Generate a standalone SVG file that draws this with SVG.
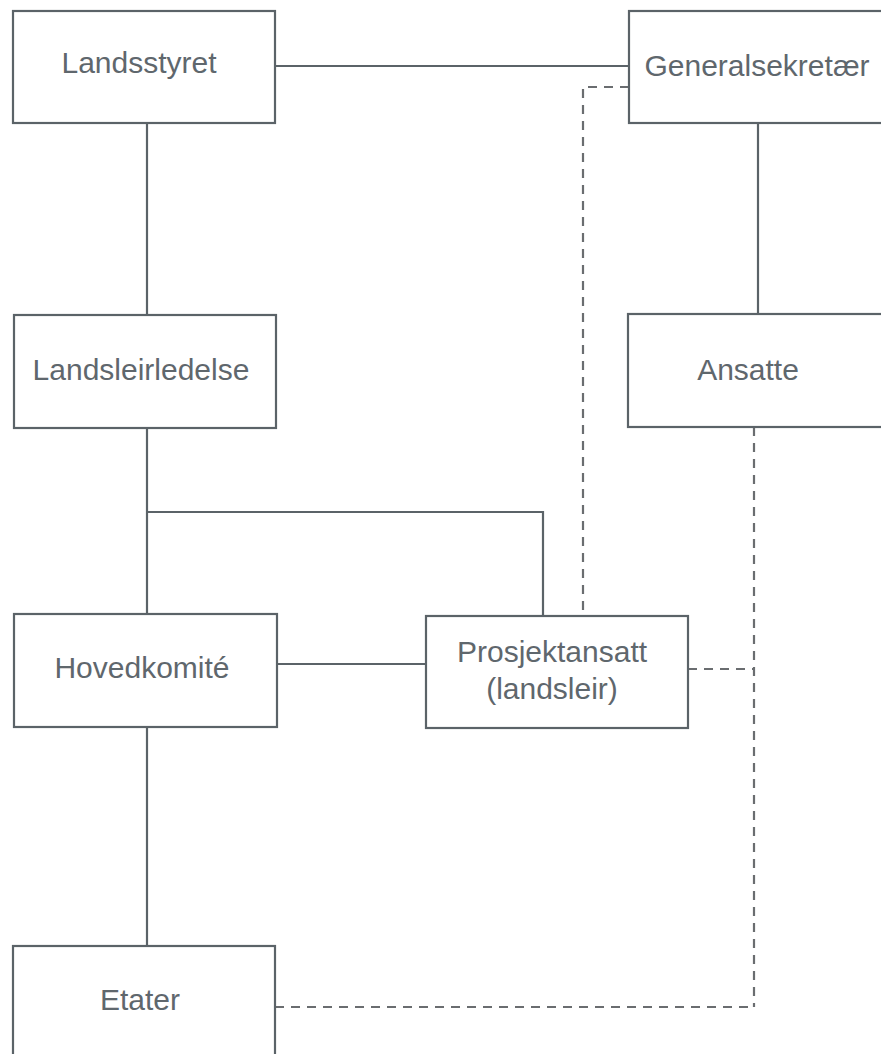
<svg xmlns="http://www.w3.org/2000/svg" width="881" height="1054" viewBox="0 0 881 1054">
<style>
.box{fill:#ffffff;stroke:#5b6368;stroke-width:2.2}
.lbl{font-family:"Liberation Sans",Arial,sans-serif;font-size:30px;fill:#5f676d;text-anchor:middle}
.solid{fill:none;stroke:#5b6368;stroke-width:2.2}
.dash{fill:none;stroke:#6a6d70;stroke-width:2.2;stroke-dasharray:9 7}
</style>
<rect width="881" height="1054" fill="#ffffff"/>
<g id="connectors">
<line class="solid" x1="275" y1="66" x2="629" y2="66"/>
<line class="solid" x1="147" y1="123" x2="147" y2="315"/>
<line class="solid" x1="758" y1="123" x2="758" y2="314"/>
<line class="solid" x1="147" y1="428" x2="147" y2="614"/>
<polyline class="solid" points="147,512 543,512 543,616"/>
<line class="solid" x1="277" y1="664" x2="426" y2="664"/>
<line class="solid" x1="147" y1="727" x2="147" y2="946"/>
<polyline class="dash" points="629,87 583,87 583,616"/>
<line class="dash" x1="754" y1="427" x2="754" y2="1007"/>
<line class="dash" x1="688" y1="669" x2="754" y2="669"/>
<line class="dash" x1="275" y1="1007" x2="754" y2="1007"/>
</g>
<g id="landsstyret">
<rect class="box" x="13" y="11" width="262" height="112"/>
<text class="lbl" x="139" y="73">Landsstyret</text>
</g>
<g id="generalsekretaer">
<rect class="box" x="629" y="11" width="262" height="112"/>
<text class="lbl" x="757" y="76">Generalsekretær</text>
</g>
<g id="landsleirledelse">
<rect class="box" x="14" y="315" width="262" height="113"/>
<text class="lbl" x="141" y="380">Landsleirledelse</text>
</g>
<g id="ansatte">
<rect class="box" x="628" y="314" width="262" height="113"/>
<text class="lbl" x="748" y="380">Ansatte</text>
</g>
<g id="hovedkomite">
<rect class="box" x="14" y="614" width="263" height="113"/>
<text class="lbl" x="142" y="678">Hovedkomité</text>
</g>
<g id="prosjektansatt">
<rect class="box" x="426" y="616" width="262" height="112"/>
<text class="lbl" x="552" y="662">Prosjektansatt</text>
<text class="lbl" x="552" y="699">(landsleir)</text>
</g>
<g id="etater">
<rect class="box" x="13" y="946" width="262" height="120"/>
<text class="lbl" x="140" y="1010">Etater</text>
</g>
</svg>
